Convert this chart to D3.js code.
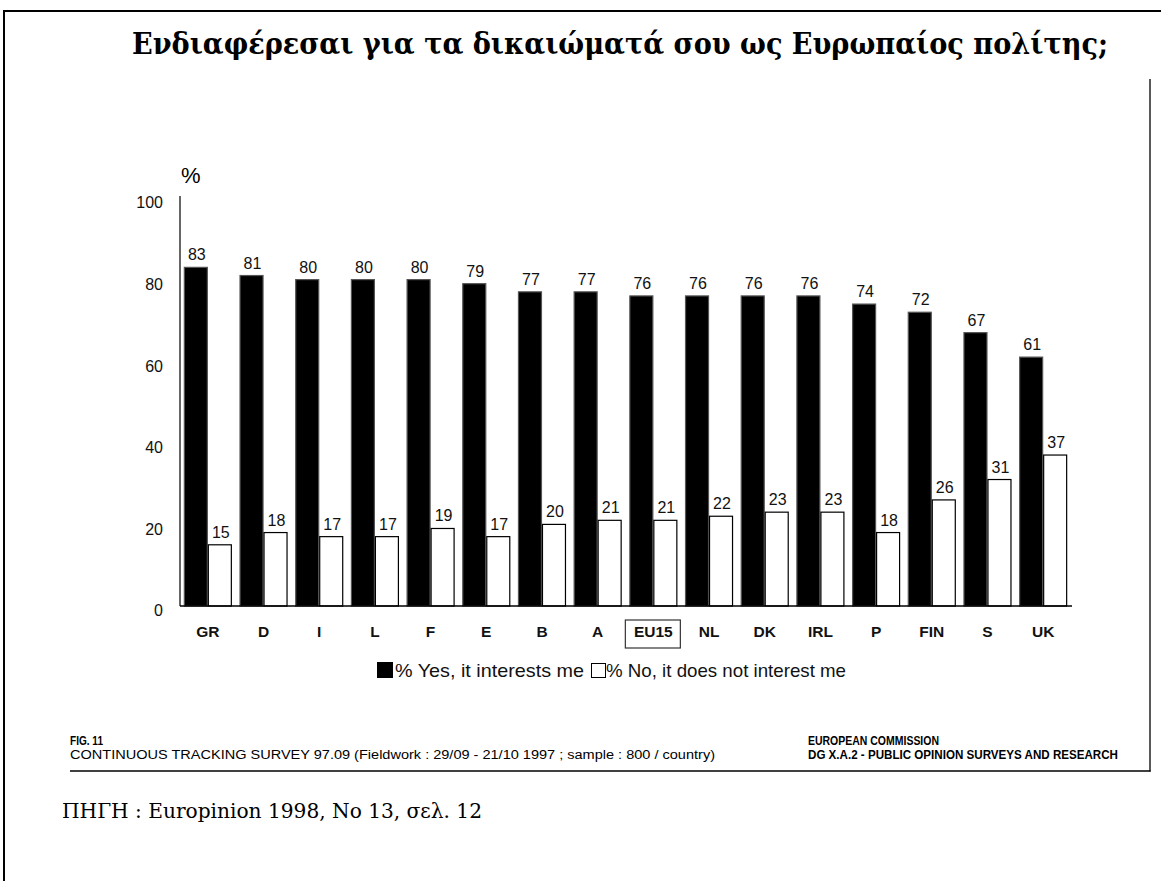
<!DOCTYPE html>
<html>
<head>
<meta charset="utf-8">
<script src="https://cdn.jsdelivr.net/npm/d3@7"></script>
<style>
  body { margin: 0; background: #fff; }
  svg { display: block; }
</style>
</head>
<body>
<svg id="chart" width="1161" height="881"></svg>
<script>
// data
const countries = ["GR", "D", "I", "L", "F", "E", "B", "A", "EU15", "NL", "DK", "IRL", "P", "FIN", "S", "UK"];
const yesValues = [83, 81, 80, 80, 80, 79, 77, 77, 76, 76, 76, 76, 74, 72, 67, 61];
const noValues = [15, 18, 17, 17, 19, 17, 20, 21, 21, 22, 23, 23, 18, 26, 31, 37];
const yTicks = [0, 20, 40, 60, 80, 100];
const seriesKeys = ["yes", "no"];
const seriesNames = ["% Yes, it interests me", "% No, it does not interest me"];

let svg = d3.select("#chart");
let sans = "'Liberation Sans', Arial, sans-serif";
let serif = "'DejaVu Serif Condensed', 'DejaVu Serif', serif";

//frame of the page
svg.append("line").attr("x1", 3).attr("x2", 1161).attr("y1", 11).attr("y2", 11)
    .attr("stroke", "#000").attr("stroke-width", 2);
svg.append("line").attr("x1", 4).attr("x2", 4).attr("y1", 10).attr("y2", 881)
    .attr("stroke", "#000").attr("stroke-width", 2);
svg.append("line").attr("x1", 1150).attr("x2", 1150).attr("y1", 79).attr("y2", 771.5)
    .attr("stroke", "#000").attr("stroke-width", 1.3);
svg.append("line").attr("x1", 70).attr("x2", 1150.6).attr("y1", 771).attr("y2", 771)
    .attr("stroke", "#000").attr("stroke-width", 1.3);

//title
svg.append("text")
    .attr("x", 620).attr("y", 54)
    .attr("text-anchor", "middle")
    .attr("font-family", serif)
    .attr("font-weight", "bold")
    .attr("font-size", "29px")
    .attr("textLength", 976)
    .attr("lengthAdjust", "spacingAndGlyphs")
    .text("Ενδιαφέρεσαι για τα δικαιώματά σου ως Ευρωπαίος πολίτης;");

//scales
let x = d3.scaleBand()
    .domain(countries)
    .range([180, 1071])
    .paddingInner(0.138)
    .paddingOuter(0.069);

let xSub = d3.scaleBand()
    .domain(seriesKeys)
    .range([0, x.bandwidth()]);

let y = d3.scaleLinear()
    .domain([0, 100])
    .range([606, 198]);

let rows = countries.map(function(c, i) {
    return { country: c, yes: yesValues[i], no: noValues[i] };
});

//y axis: line only, no ticks
let yAxis = svg.append("g")
    .attr("transform", "translate(180,0)")
    .call(d3.axisLeft(y).tickValues(yTicks).tickSize(0).tickPadding(17));
yAxis.select(".domain").attr("stroke", "#000").attr("stroke-width", 1.2)
    .attr("d", "M0," + (y(100) - 2) + "V" + y(0));
yAxis.selectAll("text")
    .attr("font-family", sans)
    .attr("font-size", "16px")
    .attr("fill", "#111")
    .attr("dy", "0.62em");

svg.append("text")
    .attr("x", 181).attr("y", 183)
    .attr("font-family", sans)
    .attr("font-size", "22px")
    .text("%");

//bars
let groups = svg.selectAll(".grp")
    .data(rows)
    .enter()
    .append("g")
    .attr("class", "grp")
    .attr("transform", function(d) { return "translate(" + x(d.country) + ",0)"; });

groups.selectAll("rect")
    .data(function(d) { return seriesKeys.map(function(k) { return { key: k, value: d[k] }; }); })
    .enter()
    .append("rect")
    .attr("x", function(d) { return xSub(d.key) + 0.5; })
    .attr("y", function(d) { return y(d.value); })
    .attr("width", xSub.bandwidth() - 1)
    .attr("height", function(d) { return y(0) - y(d.value); })
    .attr("fill", function(d) { return d.key == "yes" ? "#000" : "#fff"; })
    .attr("stroke", function(d) { return d.key == "yes" ? "#555" : "#000"; })
    .attr("stroke-width", 1.2);

groups.selectAll(".val")
    .data(function(d) { return seriesKeys.map(function(k) { return { key: k, value: d[k] }; }); })
    .enter()
    .append("text")
    .attr("class", "val")
    .attr("x", function(d) { return xSub(d.key) + xSub.bandwidth() / 2 + 1; })
    .attr("y", function(d) { return y(d.value) - 7; })
    .attr("text-anchor", "middle")
    .attr("font-family", sans)
    .attr("font-size", "16px")
    .attr("fill", "#111")
    .text(function(d) { return d.value; });

//x axis
let xAxis = svg.append("g")
    .attr("transform", "translate(0," + y(0) + ")")
    .call(d3.axisBottom(x).tickSize(0).tickPadding(20));
xAxis.select(".domain").attr("stroke", "#000").attr("stroke-width", 1.5)
    .attr("d", "M180,0H1072");
xAxis.selectAll("text")
    .attr("font-family", sans)
    .attr("font-size", "15.5px")
    .attr("font-weight", "bold")
    .attr("fill", "#111");

//box round EU15
let eu = x("EU15") + x.bandwidth() / 2;
svg.append("rect")
    .attr("x", eu - 28).attr("y", 620)
    .attr("width", 55).attr("height", 28)
    .attr("fill", "none")
    .attr("stroke", "#333")
    .attr("stroke-width", 1.2);

//legend
let legend = svg.append("g").attr("transform", "translate(377,662)");
legend.append("rect").attr("x", 0).attr("y", 0).attr("width", 16).attr("height", 16)
    .attr("fill", "#000");
legend.append("text").attr("x", 18).attr("y", 15)
    .attr("font-family", sans).attr("font-size", "18.5px").attr("fill", "#111")
    .attr("textLength", 189).attr("lengthAdjust", "spacingAndGlyphs")
    .text(seriesNames[0]);
legend.append("rect").attr("x", 214.5).attr("y", 1.5).attr("width", 14).attr("height", 14)
    .attr("fill", "#fff").attr("stroke", "#000").attr("stroke-width", 1);
legend.append("text").attr("x", 229).attr("y", 15)
    .attr("font-family", sans).attr("font-size", "18.5px").attr("fill", "#111")
    .attr("textLength", 240).attr("lengthAdjust", "spacingAndGlyphs")
    .text(seriesNames[1]);

//footer of the figure
svg.append("text").attr("x", 70).attr("y", 745)
    .attr("font-family", sans).attr("font-size", "12.5px").attr("font-weight", "bold")
    .attr("textLength", 33).attr("lengthAdjust", "spacingAndGlyphs")
    .text("FIG. 11");
svg.append("text").attr("x", 70).attr("y", 759)
    .attr("font-family", sans).attr("font-size", "12.5px")
    .attr("textLength", 645).attr("lengthAdjust", "spacingAndGlyphs")
    .text("CONTINUOUS TRACKING SURVEY 97.09 (Fieldwork : 29/09 - 21/10 1997 ; sample : 800 / country)");
svg.append("text").attr("x", 808).attr("y", 745)
    .attr("font-family", sans).attr("font-size", "12px").attr("font-weight", "bold")
    .attr("textLength", 131).attr("lengthAdjust", "spacingAndGlyphs")
    .text("EUROPEAN COMMISSION");
svg.append("text").attr("x", 808).attr("y", 759)
    .attr("font-family", sans).attr("font-size", "12px").attr("font-weight", "bold")
    .attr("textLength", 310).attr("lengthAdjust", "spacingAndGlyphs")
    .text("DG X.A.2 - PUBLIC OPINION SURVEYS AND RESEARCH");

//source line
svg.append("text").attr("x", 62).attr("y", 818)
    .attr("font-family", serif).attr("font-size", "20px")
    .attr("textLength", 420).attr("lengthAdjust", "spacingAndGlyphs")
    .text("ΠΗΓΗ : Europinion 1998, No 13, σελ. 12");
</script>
</body>
</html>
